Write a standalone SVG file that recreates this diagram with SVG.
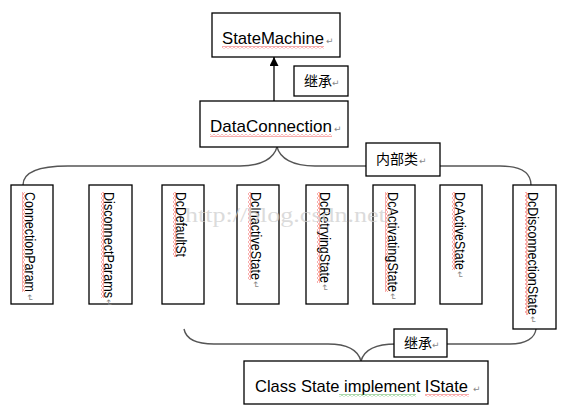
<svg xmlns="http://www.w3.org/2000/svg" width="568" height="412" viewBox="0 0 568 412">
<defs>
<style>
.box{fill:#fff;stroke:#000;stroke-width:1.3}
.t{font-family:"Liberation Sans",Arial,sans-serif;fill:#000}
.cn{font-family:"Noto Sans CJK SC","Liberation Sans",sans-serif;fill:#000;font-size:14px}
.pm{font-family:"DejaVu Sans",sans-serif;fill:#888;font-size:9px}
.br{fill:none;stroke:#555;stroke-width:1.4}
.wm{font-family:"Liberation Serif",serif;fill:#cfcfcf;fill-opacity:0.75;font-size:20px}
</style>
<pattern id="sqh" width="4" height="3" patternUnits="userSpaceOnUse"><path d="M0,0.5 L2,2.5 L4,0.5" fill="none" stroke="#f03030" stroke-width="0.8"/></pattern>
<pattern id="sqg" width="4" height="3" patternUnits="userSpaceOnUse"><path d="M0,0.5 L2,2.5 L4,0.5" fill="none" stroke="#30a030" stroke-width="0.8"/></pattern>
<pattern id="sqv" width="3" height="4" patternUnits="userSpaceOnUse"><path d="M0.5,0 L2.5,2 L0.5,4" fill="none" stroke="#f03030" stroke-width="0.8"/></pattern>
<marker id="arr" viewBox="0 0 10 10" refX="10" refY="5" markerWidth="9" markerHeight="9" markerUnits="userSpaceOnUse" orient="auto"><path d="M0,0 L10,5 L0,10 Z" fill="#000"/></marker>
</defs>
<rect width="568" height="412" fill="#fff"/>

<g id="connectors">
<line x1="274" y1="101" x2="274" y2="57" stroke="#000" stroke-width="1.3" marker-end="url(#arr)"/>
<path class="br" d="M23,185 C23,172 40,166 68,166 L240,166 C262,166 274,158 277,147 C280,158 292,166 315,166 L500,166 C520,166 531,172 531,185"/>
<path class="br" d="M184,329 C186,339 196,344 214,344 L328,344 C348,344 358,350 361,361 C364,350 374,344 396,344 L510,344 C526,344 535,338 536,329"/>
</g>

<g id="StateMachine">
<rect class="box" x="212" y="13" width="128" height="44"/>
<text class="t" x="222" y="44" font-size="17" textLength="102" lengthAdjust="spacingAndGlyphs">StateMachine</text>
<rect x="222" y="46" width="102" height="3" fill="url(#sqh)"/>
<text class="pm" x="326" y="44">↵</text>
</g>

<g id="label-inherit-top">
<rect class="box" x="294" y="66" width="54" height="30"/>
<text class="cn" x="304" y="86">继承</text>
<text class="pm" x="332" y="86">↵</text>
</g>

<g id="DataConnection">
<rect class="box" x="200" y="101" width="148" height="46"/>
<text class="t" x="210" y="132" font-size="17" textLength="122" lengthAdjust="spacingAndGlyphs">DataConnection</text>
<rect x="210" y="134" width="122" height="3" fill="url(#sqh)"/>
<text class="pm" x="334" y="132">↵</text>
</g>

<g id="label-inner">
<rect class="box" x="366" y="143" width="74" height="33"/>
<text class="cn" x="376" y="164">内部类</text>
<text class="pm" x="419" y="164">↵</text>
</g>

<g id="ConnectionParam">
<rect class="box" x="11" y="185" width="42" height="119"/>
<rect x="22" y="192" width="3" height="100" fill="url(#sqv)"/>
<text class="t" transform="translate(25,192) rotate(90)" font-size="14" textLength="100" lengthAdjust="spacingAndGlyphs">ConnectionParam</text>
<text class="pm" transform="translate(27,294) rotate(90)">↵</text>
</g>

<g id="DisconnectParams">
<rect class="box" x="89" y="185" width="43" height="119"/>
<rect x="101" y="192" width="3" height="106" fill="url(#sqv)"/>
<text class="t" transform="translate(104,192) rotate(90)" font-size="14" textLength="106" lengthAdjust="spacingAndGlyphs">DisconnectParams</text>
<text class="pm" transform="translate(106,299) rotate(90)">↵</text>
</g>

<g id="DcDefaultSt">
<rect class="box" x="162" y="185" width="42" height="119"/>
<rect x="173" y="192" width="3" height="65" fill="url(#sqv)"/>
<text class="t" transform="translate(176,192) rotate(90)" font-size="14" textLength="65" lengthAdjust="spacingAndGlyphs">DcDefaultSt</text>
</g>

<g id="DcInactiveState">
<rect class="box" x="237" y="185" width="42" height="119"/>
<rect x="248" y="192" width="3" height="88" fill="url(#sqv)"/>
<text class="t" transform="translate(251,192) rotate(90)" font-size="14" textLength="88" lengthAdjust="spacingAndGlyphs">DcInactiveState</text>
<text class="pm" transform="translate(253,281) rotate(90)">↵</text>
</g>

<g id="DcRetryingState">
<rect class="box" x="306" y="185" width="42" height="119"/>
<rect x="317" y="192" width="3" height="91" fill="url(#sqv)"/>
<text class="t" transform="translate(320,192) rotate(90)" font-size="14" textLength="91" lengthAdjust="spacingAndGlyphs">DcRetryingState</text>
<text class="pm" transform="translate(322,284) rotate(90)">↵</text>
</g>

<g id="DcActivatingState">
<rect class="box" x="373" y="185" width="42" height="119"/>
<rect x="385" y="192" width="3" height="100" fill="url(#sqv)"/>
<text class="t" transform="translate(388,192) rotate(90)" font-size="14" textLength="100" lengthAdjust="spacingAndGlyphs">DcActivatingState</text>
<text class="pm" transform="translate(390,293) rotate(90)">↵</text>
</g>

<g id="DcActiveState">
<rect class="box" x="440" y="185" width="42" height="119"/>
<rect x="452" y="192" width="3" height="78" fill="url(#sqv)"/>
<text class="t" transform="translate(455,192) rotate(90)" font-size="14" textLength="78" lengthAdjust="spacingAndGlyphs">DcActiveState</text>
<text class="pm" transform="translate(457,271) rotate(90)">↵</text>
</g>

<g id="DcDisconnectionState">
<rect class="box" x="513" y="185" width="43" height="144"/>
<rect x="525" y="192" width="3" height="123" fill="url(#sqv)"/>
<text class="t" transform="translate(528,192) rotate(90)" font-size="14" textLength="123" lengthAdjust="spacingAndGlyphs">DcDisconnectionState</text>
<text class="pm" transform="translate(530,316) rotate(90)">↵</text>
</g>

<g id="label-inherit-bottom">
<rect class="box" x="394" y="329" width="53" height="28"/>
<text class="cn" x="404" y="348">继承</text>
<text class="pm" x="432" y="348">↵</text>
</g>

<g id="ClassState">
<rect class="box" x="244" y="361" width="244" height="43"/>
<text class="t" x="255" y="392" font-size="17" textLength="213" lengthAdjust="spacingAndGlyphs">Class State implement IState</text>
<rect x="339" y="394" width="77" height="3" fill="url(#sqg)"/>
<rect x="425" y="394" width="44" height="3" fill="url(#sqh)"/>
<text class="pm" x="473" y="392">↵</text>
</g>

<text class="wm" x="185" y="222" textLength="208" lengthAdjust="spacingAndGlyphs">http://blog.csdn.net/</text>
</svg>
